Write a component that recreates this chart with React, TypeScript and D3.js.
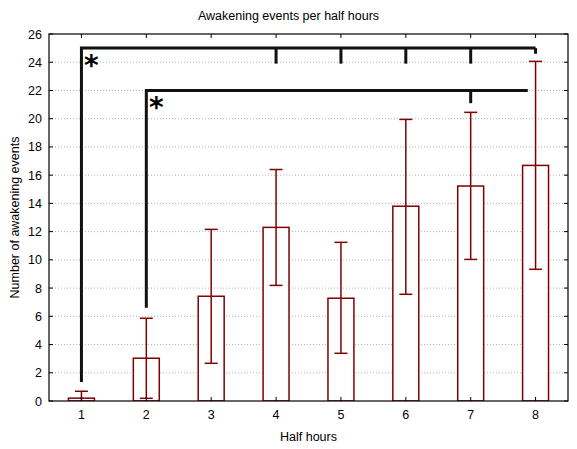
import React, { useRef, useEffect } from 'react';
import * as d3 from 'd3';

const halfHours = [1, 2, 3, 4, 5, 6, 7, 8];
const means = [0.2, 3.03, 7.42, 12.3, 7.28, 13.8, 15.23, 16.69];
const lower = [-0.29, 0.19, 2.67, 8.19, 3.38, 7.56, 10.03, 9.33];
const upper = [0.69, 5.86, 12.16, 16.4, 11.24, 19.95, 20.45, 24.06];
const yTicks = [0, 2, 4, 6, 8, 10, 12, 14, 16, 18, 20, 22, 24, 26];

// significance brackets
const bracketFrom = [1, 2];
const bracketTo = [8, 7.88];
const bracketLevel = [25, 22];
const bracketBase = [1.35, 6.6];
const bracketTicks = [[4, 5, 6, 7, 8], [7]];
const bracketTickEnd = [[23.9, 23.9, 23.9, 23.9, 24.6], [21.1]];

const width = 577;
const height = 449;

const App = () => {
    const svgRef = useRef<SVGSVGElement | null>(null);

    useEffect(() => {
        document.body.style.margin = '0';
        const svg = d3.select(svgRef.current);
        const margin = { top: 34, right: 9, bottom: 48, left: 49 };
        const font = 'Liberation Sans, Arial, sans-serif';
        const fontSize = 12.5;
        const red = '#800000';

        svg.selectAll('*').remove();

        const x = d3
            .scaleLinear()
            .domain([0.5, 8.5])
            .range([margin.left, width - margin.right]);

        const y = d3
            .scaleLinear()
            .domain([0, 26])
            .range([height - margin.bottom, margin.top]);

        const unit = x(1) - x(0);

        svg.append('clipPath')
            .attr('id', 'plot')
            .append('rect')
            .attr('x', margin.left)
            .attr('y', margin.top)
            .attr('width', width - margin.left - margin.right)
            .attr('height', height - margin.top - margin.bottom);

        // grid
        svg.append('g')
            .selectAll('line')
            .data(yTicks.slice(1, -1))
            .join('line')
            .attr('x1', margin.left)
            .attr('x2', width - margin.right)
            .attr('y1', (d) => y(d))
            .attr('y2', (d) => y(d))
            .attr('stroke', '#b4b4b4')
            .attr('stroke-dasharray', '1,2');

        const plot = svg.append('g').attr('clip-path', 'url(#plot)');

        // bars
        plot.append('g')
            .selectAll('rect')
            .data(halfHours)
            .join('rect')
            .attr('x', (d) => x(d) - unit * 0.2)
            .attr('width', unit * 0.4)
            .attr('y', (d, i) => y(means[i]))
            .attr('height', (d, i) => y(0) - y(means[i]))
            .attr('fill', 'white')
            .attr('stroke', red)
            .attr('stroke-width', 1.5);

        // error bars
        const err = plot.append('g').attr('stroke', red).attr('stroke-width', 1.5);
        err.selectAll('line.v')
            .data(halfHours)
            .join('line')
            .attr('class', 'v')
            .attr('x1', (d) => x(d))
            .attr('x2', (d) => x(d))
            .attr('y1', (d, i) => y(lower[i]))
            .attr('y2', (d, i) => y(upper[i]));
        [lower, upper].forEach((vals, k) => {
            err.selectAll(`line.c${k}`)
                .data(halfHours)
                .join('line')
                .attr('class', `c${k}`)
                .attr('x1', (d) => x(d) - unit * 0.1)
                .attr('x2', (d) => x(d) + unit * 0.1)
                .attr('y1', (d, i) => y(vals[i]))
                .attr('y2', (d, i) => y(vals[i]));
        });

        // axes frame
        svg.append('rect')
            .attr('x', margin.left)
            .attr('y', margin.top)
            .attr('width', width - margin.left - margin.right)
            .attr('height', height - margin.top - margin.bottom)
            .attr('fill', 'none')
            .attr('stroke', 'black')
            .attr('stroke-width', 1.2);

        const tickLen = 4;
        const ticks = svg.append('g').attr('stroke', 'black');
        halfHours.forEach((d) => {
            ticks.append('line').attr('x1', x(d)).attr('x2', x(d))
                .attr('y1', y(0)).attr('y2', y(0) - tickLen);
            ticks.append('line').attr('x1', x(d)).attr('x2', x(d))
                .attr('y1', y(26)).attr('y2', y(26) + tickLen);
        });
        yTicks.forEach((d) => {
            ticks.append('line').attr('x1', margin.left).attr('x2', margin.left + tickLen)
                .attr('y1', y(d)).attr('y2', y(d));
            ticks.append('line').attr('x1', width - margin.right).attr('x2', width - margin.right - tickLen)
                .attr('y1', y(d)).attr('y2', y(d));
        });

        // tick labels
        svg.append('g')
            .selectAll('text')
            .data(halfHours)
            .join('text')
            .attr('x', (d) => x(d))
            .attr('y', y(0) + 18)
            .attr('text-anchor', 'middle')
            .attr('font-family', font)
            .attr('font-size', fontSize)
            .text((d) => d);
        svg.append('g')
            .selectAll('text')
            .data(yTicks)
            .join('text')
            .attr('x', margin.left - 7)
            .attr('y', (d) => y(d) + 4.5)
            .attr('text-anchor', 'end')
            .attr('font-family', font)
            .attr('font-size', fontSize)
            .text((d) => d);

        // titles
        svg.append('text')
            .attr('x', width / 2)
            .attr('y', 20)
            .attr('text-anchor', 'middle')
            .attr('font-family', font)
            .attr('font-size', fontSize)
            .text('Awakening events per half hours');
        svg.append('text')
            .attr('x', (margin.left + width - margin.right) / 2)
            .attr('y', 441)
            .attr('text-anchor', 'middle')
            .attr('font-family', font)
            .attr('font-size', fontSize)
            .text('Half hours');
        svg.append('text')
            .attr('transform', `translate(19,${(y(0) + y(26)) / 2}) rotate(-90)`)
            .attr('text-anchor', 'middle')
            .attr('font-family', font)
            .attr('font-size', fontSize)
            .text('Number of awakening events');

        // significance brackets
        const starSize = 28;
        const br = svg.append('g')
            .attr('stroke', '#111')
            .attr('stroke-width', 3)
            .attr('fill', 'none');
        bracketFrom.forEach((from, i) => {
            br.append('path')
                .attr('d', `M${x(from)},${y(bracketBase[i])}V${y(bracketLevel[i])}H${x(bracketTo[i])}`);
            bracketTicks[i].forEach((t, j) => {
                br.append('line')
                    .attr('x1', x(t)).attr('x2', x(t))
                    .attr('y1', y(bracketLevel[i])).attr('y2', y(bracketTickEnd[i][j]));
            });
            svg.append('text')
                .attr('x', x(from) + 10)
                .attr('y', y(bracketLevel[i]) + 10 + 0.59 * starSize)
                .attr('text-anchor', 'middle')
                .attr('font-family', 'DejaVu Sans, sans-serif')
                .attr('font-size', starSize)
                .attr('font-weight', 'bold')
                .text('*');
        });
    }, []);

    return <svg ref={svgRef} width={width} height={height} style={{ display: 'block' }}></svg>;
};

export default App;
